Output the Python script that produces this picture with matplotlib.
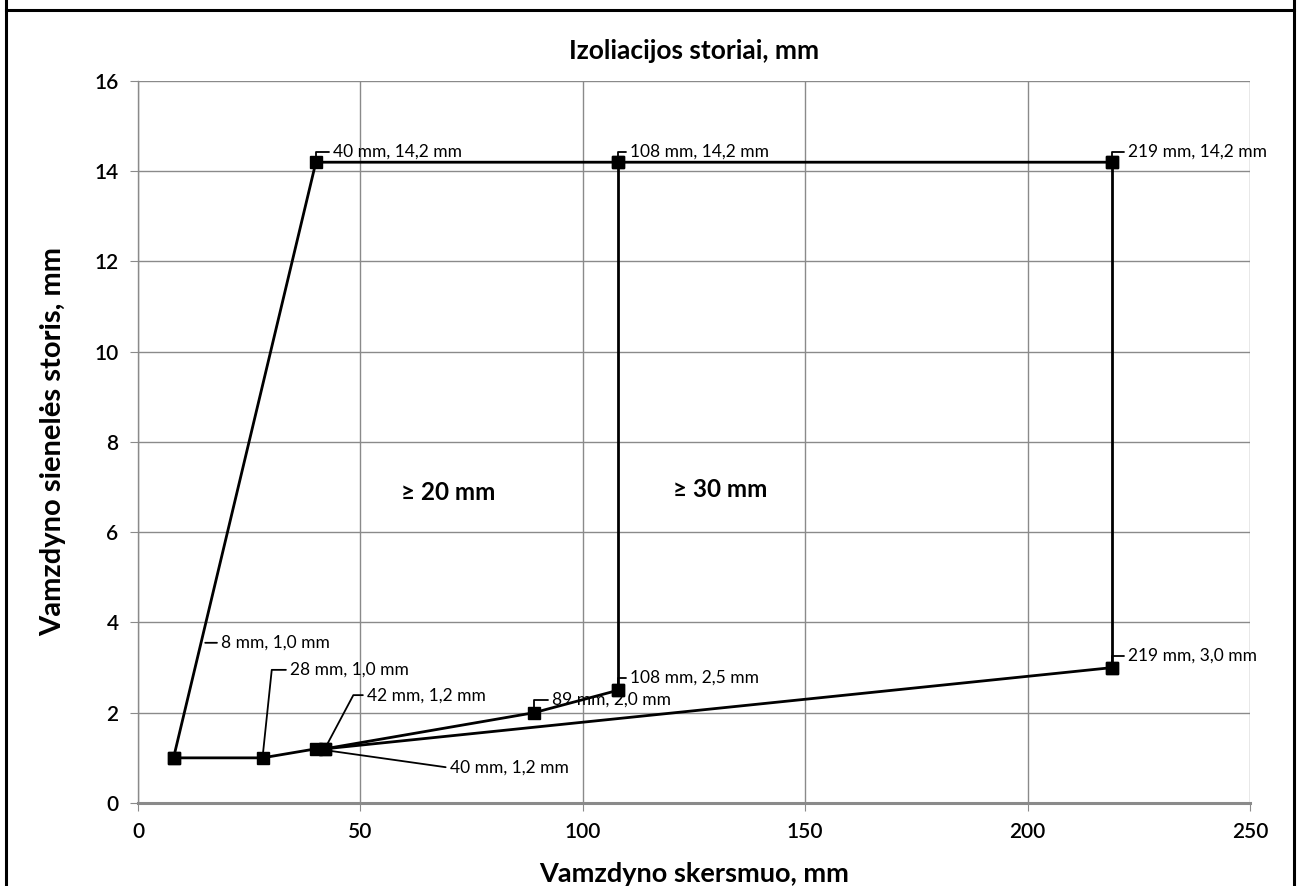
import numpy as np
import matplotlib.pyplot as plt
from matplotlib.lines import Line2D

plt.rcParams['font.family'] = ['Lato', 'DejaVu Sans']

# Viršutinė riba: 8 mm -> 40 mm -> 108 mm -> 219 mm
virsus_x = [8, 40, 108, 219]
virsus_y = [1.0, 14.2, 14.2, 14.2]

# Apatinė riba (iki 108 mm)
apacia_x = [8, 28, 40, 42, 89, 108]
apacia_y = [1.0, 1.0, 1.2, 1.2, 2.0, 2.5]

# Apatinė riba (iki 219 mm)
apacia2_x = [42, 219]
apacia2_y = [1.2, 3.0]

# Vertikalios ribos
riba108_x = [108, 108]
riba108_y = [14.2, 2.5]
riba219_x = [219, 219]
riba219_y = [14.2, 3.0]

# Duomenų žymės: taškas, teksto vieta, tekstas
zymes_taskai = [(40, 14.2), (108, 14.2), (219, 14.2), (8, 1.0), (28, 1.0),
                (42, 1.2), (40, 1.2), (89, 2.0), (108, 2.5), (219, 3.0)]
zymes_tekstas = ["40 mm, 14,2 mm", "108 mm, 14,2 mm", "219 mm, 14,2 mm",
                 "8 mm, 1,0 mm", "28 mm, 1,0 mm", "42 mm, 1,2 mm",
                 "40 mm, 1,2 mm", "89 mm, 2,0 mm", "108 mm, 2,5 mm",
                 "219 mm, 3,0 mm"]
zymes_vieta = [(43.8, 14.43), (110.6, 14.43), (222.6, 14.43), (18.7, 3.55),
               (34.2, 2.95), (51.5, 2.39), (70.1, 0.78), (93.1, 2.28),
               (110.6, 2.77), (222.6, 3.26)]
zymes_stilius = ['angle,angleA=0,angleB=90', 'angle,angleA=0,angleB=90',
                 'angle,angleA=0,angleB=90', 'arc3', 'angle,angleA=0,angleB=84',
                 'angle,angleA=0,angleB=62', 'arc3', 'angle,angleA=0,angleB=90',
                 'angle,angleA=0,angleB=90', 'angle,angleA=0,angleB=90']

# Sričių užrašai
sritys_x = [69.7, 130.8]
sritys_y = [6.87, 6.94]
sritys_tekstas = ["≥ 20 mm", "≥ 30 mm"]

fig = plt.figure(figsize=(12.99, 8.86), dpi=100)
ax = fig.add_axes([0.1062, 0.0937, 0.8561, 0.8149])

ax.set_xlim(0, 250)
ax.set_ylim(0, 16)
ax.set_xticks(np.arange(0, 251, 50))
ax.set_yticks(np.arange(0, 17, 2))
ax.grid(True, color='#8a8a8a', linewidth=1.0)
ax.set_axisbelow(True)
for s in ['top', 'right']:
    ax.spines[s].set_visible(False)
ax.spines['left'].set_color('#8a8a8a')
ax.spines['left'].set_linewidth(1.0)
ax.spines['bottom'].set_color('#8a8a8a')
ax.spines['bottom'].set_linewidth(2.2)
ax.tick_params(axis='both', direction='out', length=6, color='#8a8a8a',
               labelsize=15, pad=8)
for lbl in ax.get_xticklabels() + ax.get_yticklabels():
    lbl.set_fontweight('semibold')

kw = dict(color='black', linewidth=2.0, marker='s', markersize=9,
          markerfacecolor='black', markeredgecolor='black')
ax.plot(virsus_x, virsus_y, **kw)
ax.plot(apacia_x, apacia_y, **kw)
ax.plot(apacia2_x, apacia2_y, **kw)
ax.plot(riba108_x, riba108_y, **kw)
ax.plot(riba219_x, riba219_y, **kw)

for (px, py), (tx, ty), txt, cs in zip(zymes_taskai, zymes_vieta,
                                       zymes_tekstas, zymes_stilius):
    if txt.startswith("8 mm"):
        # žymė prijungta prie linijos atkarpos
        px = np.interp(ty, virsus_y[:2], virsus_x[:2])
        py = ty
    ax.annotate(txt, xy=(px, py), xytext=(tx, ty), ha='left', va='center',
                fontsize=12.5, clip_on=False, annotation_clip=False,
                arrowprops=dict(arrowstyle='-', color='black', lw=1.3,
                                connectionstyle=cs, relpos=(0, 0.5),
                                shrinkA=1, shrinkB=3))

for x, y, t in zip(sritys_x, sritys_y, sritys_tekstas):
    ax.text(x, y, t, ha='center', va='center', fontsize=17.5, fontweight='bold')

ax.set_title("Izoliacijos storiai, mm", fontsize=19, fontweight='bold', pad=16)
ax.set_xlabel("Vamzdyno skersmuo, mm", fontsize=19.5, fontweight='bold',
              labelpad=14)
ax.set_ylabel("Vamzdyno sienelės storis, mm", fontsize=21, fontweight='bold',
              labelpad=20)

# Rėmelis aplink paveikslą
W, H = 1299, 886
fig.add_artist(Line2D([6 / W, 6 / W], [0, 1], color='black', lw=2.2))
fig.add_artist(Line2D([1294 / W, 1294 / W], [0, 1], color='black', lw=2.2))
fig.add_artist(Line2D([6 / W, 1294 / W], [1 - 10 / H, 1 - 10 / H],
                      color='black', lw=2.2))

fig.savefig('out.png', dpi=100)
